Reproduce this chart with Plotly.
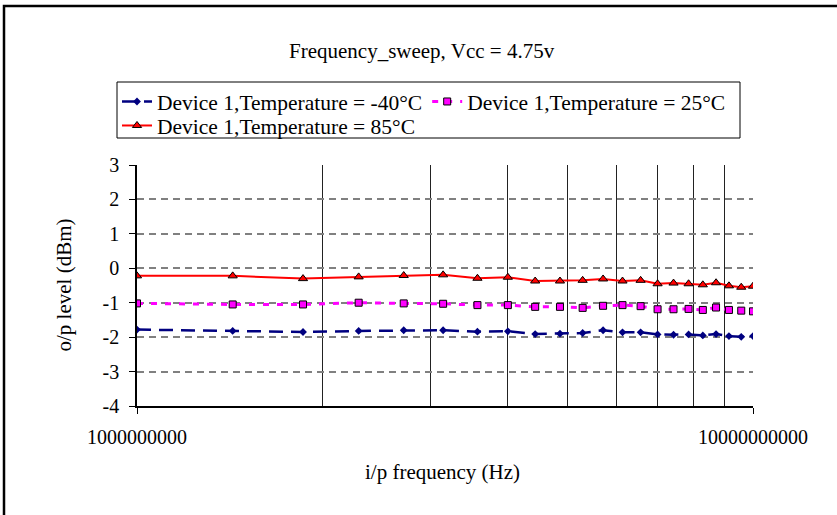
import plotly.graph_objects as go

freq_hz = [1.0e9, 1.43e9, 1.86e9, 2.29e9, 2.71e9, 3.14e9, 3.57e9, 4.0e9, 4.43e9, 4.86e9, 5.29e9,
           5.71e9, 6.14e9, 6.57e9, 7.0e9, 7.43e9, 7.86e9, 8.29e9, 8.71e9, 9.14e9, 9.57e9, 10.0e9]
temp_m40 = [-1.78, -1.82, -1.85, -1.82, -1.80, -1.80, -1.84, -1.83, -1.91, -1.90, -1.88,
            -1.80, -1.86, -1.86, -1.92, -1.93, -1.92, -1.95, -1.91, -1.97, -1.99, -1.97]
temp_25 = [-1.02, -1.05, -1.05, -1.00, -1.02, -1.03, -1.07, -1.07, -1.12, -1.12, -1.15,
           -1.09, -1.07, -1.10, -1.19, -1.19, -1.18, -1.21, -1.14, -1.21, -1.23, -1.25]
temp_85 = [-0.22, -0.22, -0.30, -0.25, -0.21, -0.19, -0.29, -0.26, -0.37, -0.37, -0.35,
           -0.31, -0.37, -0.35, -0.45, -0.43, -0.45, -0.48, -0.42, -0.51, -0.55, -0.52]
names = ["Device 1,Temperature = -40°C", "Device 1,Temperature = 25°C", "Device 1,Temperature = 85°C"]
x_major = [1e9, 1e10]
x_major_text = ["1000000000", "10000000000"]
x_minor = [2e9, 3e9, 4e9, 5e9, 6e9, 7e9, 8e9, 9e9]
y_ticks = [-4, -3, -2, -1, 0, 1, 2, 3]
y_tick_text = ["-4", "-3", "-2", "-1", "0", "1", "2", "3"]
title_text = "Frequency_sweep, Vcc = 4.75v"
x_title = "i/p frequency (Hz)"
y_title = "o/p level (dBm)"

FONT = "Liberation Serif"
W, H = 837, 515
L, R, T, B = 137, 753, 165, 406

def px(xp):
    return (xp - L) / (R - L)

def py(yp):
    return (B - yp) / (B - T)

fig = go.Figure()
fig.add_trace(go.Scatter(x=freq_hz, y=temp_m40, name=names[0], mode="lines+markers",
                         line=dict(color="#000080", width=2.5, dash="14px,8px"),
                         marker=dict(symbol="diamond", size=6, color="#000080"),
                         legend="legend"))
fig.add_trace(go.Scatter(x=freq_hz, y=temp_25, name=names[1], mode="lines+markers",
                         line=dict(color="#FF00FF", width=3, dash="6px,8px"),
                         marker=dict(symbol="square", size=7, color="#FF00FF",
                                     line=dict(color="black", width=1)),
                         legend="legend"))
fig.add_trace(go.Scatter(x=freq_hz, y=temp_85, name=names[2], mode="lines+markers",
                         line=dict(color="#FF0000", width=2),
                         marker=dict(symbol="triangle-up", size=8, color="#FF0000",
                                     line=dict(color="black", width=1)),
                         legend="legend2"))

fig.update_layout(
    width=W, height=H,
    margin=dict(l=L, r=W - R, t=T, b=H - B, autoexpand=False),
    paper_bgcolor="white", plot_bgcolor="white",
    font=dict(family=FONT, size=21, color="black"),
    showlegend=True,
    legend=dict(orientation="h", x=px(117), y=py(81), xanchor="left", yanchor="top",
                bgcolor="rgba(0,0,0,0)", borderwidth=0, font=dict(family=FONT, size=21.5),
                itemwidth=30),
    legend2=dict(orientation="h", x=px(117), y=py(105), xanchor="left", yanchor="top",
                 bgcolor="rgba(0,0,0,0)", borderwidth=0, font=dict(family=FONT, size=21.5),
                 itemwidth=30),
    xaxis=dict(type="log", range=[9, 10], tickvals=x_major, ticktext=x_major_text,
               showgrid=True, gridcolor="#808080", griddash="7px,5px", gridwidth=1.5,
               showline=True, linecolor="black", linewidth=1.5,
               ticks="outside", ticklen=6, tickcolor="black", ticklabelstandoff=6,
               tickfont=dict(family=FONT, size=20), zeroline=False,
               minor=dict(tickvals=x_minor, showgrid=True, gridcolor="#222222",
                          gridwidth=1, griddash="solid", ticks="")),
    yaxis=dict(range=[-4, 3], tickvals=y_ticks, ticktext=y_tick_text, showgrid=True,
               gridcolor="#808080", griddash="7px,5px", gridwidth=1.5, showline=True,
               linecolor="black", linewidth=1.5, ticks="outside", ticklen=6, tickcolor="black",
               ticklabelstandoff=6, tickfont=dict(family=FONT, size=20), zeroline=False),
)

fig.add_annotation(text=title_text, x=px(422), y=py(51), xref="paper", yref="paper",
                   showarrow=False, font=dict(family=FONT, size=21), xanchor="center", yanchor="middle")
fig.add_annotation(text=x_title, x=px(442), y=py(472), xref="paper", yref="paper",
                   showarrow=False, font=dict(family=FONT, size=21), xanchor="center", yanchor="middle")
fig.add_annotation(text=y_title, x=px(63), y=0.5, xref="paper", yref="paper", textangle=-90,
                   showarrow=False, font=dict(family=FONT, size=21), xanchor="center", yanchor="middle")

# legend box
fig.add_shape(type="rect", xref="paper", yref="paper", x0=px(117), x1=px(740), y0=py(138), y1=py(82),
              line=dict(color="black", width=1), fillcolor="rgba(0,0,0,0)", layer="above")
# outer chart border
fig.add_shape(type="rect", xref="paper", yref="paper", x0=px(4), x1=px(845), y0=py(525), y1=py(6),
              line=dict(color="black", width=2.5), fillcolor="rgba(0,0,0,0)", layer="above")

fig.write_html("out.html", config={"displayModeBar": False},
               post_script="document.body.style.margin='0';")
